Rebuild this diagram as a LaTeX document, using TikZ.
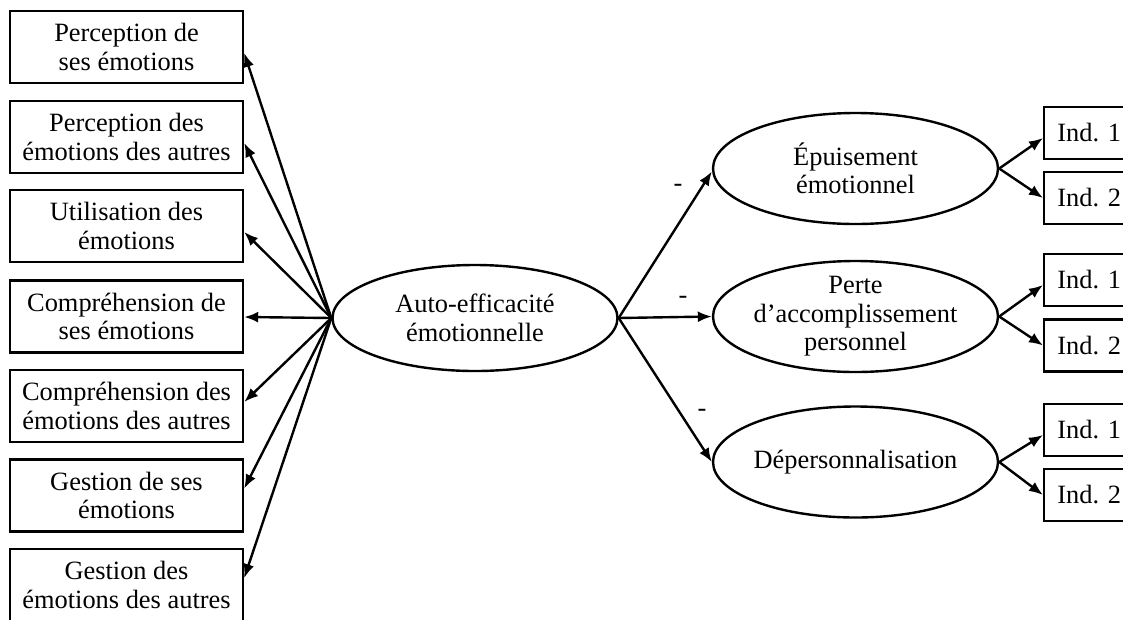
\documentclass[tikz,border=0pt]{standalone}
\usepackage{fontspec}
\setmainfont{Liberation Serif}
\usetikzlibrary{shapes.geometric,arrows.meta,calc}
\begin{document}
\begin{tikzpicture}[x=1pt,y=-1pt,
  every node/.style={font=\fontsize{26.4}{28.5}\selectfont},
  lbox/.style={draw,line width=2.4pt,minimum width=233pt,minimum height=72pt,inner sep=0pt,align=center},
  ibox/.style={draw,line width=2.4pt,minimum width=90pt,minimum height=52pt,inner sep=0pt,align=center},
  ell/.style={draw,line width=2.4pt,ellipse,inner sep=0pt},
  arr/.style={line width=2.4pt,-{Latex[length=14pt,width=11pt]}},
  txt/.style={align=center,inner sep=0pt}]
\useasboundingbox (0,0) rectangle (1123,619);
\clip (0,0) rectangle (1123,619);
% left boxes
\node[lbox] (b1) at (126.5,47) {Perception de\\ses émotions};
\node[lbox] (b2) at (126.5,137) {Perception des\\émotions des autres};
\node[lbox] (b3) at (126.5,226) {Utilisation des\\émotions};
\node[lbox] (b4) at (126.5,316.5) {Compréhension de\\ses émotions};
\node[lbox] (b5) at (126.5,406) {Compréhension des\\émotions des autres};
\node[lbox] (b6) at (126.5,495.5) {Gestion de ses\\émotions};
\node[lbox] (b7) at (126.5,585) {Gestion des\\émotions des autres};
% central ellipse
\node[ell,minimum width=285pt,minimum height=106pt] (ae) at (475,318) {};
\node[txt] (aet) at (ae) {Auto-efficacité\\émotionnelle};
% right ellipses
\node[ell,minimum width=285pt,minimum height=111pt] (ep) at (855.5,168.5) {};
\node[txt] (ept) at (ep) {Épuisement\\émotionnel};
\node[ell,minimum width=285pt,minimum height=111pt] (pa) at (855.5,316.5) {};
\node[txt] (pat) at (pa) {Perte\\d’accomplissement\\personnel};
\node[ell,minimum width=285pt,minimum height=111pt] (dp) at (855.5,462) {};
\node[txt] (dpt) at (dp) {Dépersonnalisation};
% indicator boxes
\node[ibox,anchor=west] (e1) at (1043,133) {Ind. 1};
\node[ibox,anchor=west] (e2) at (1043,198) {Ind. 2};
\node[ibox,anchor=west] (p1) at (1043,280) {Ind. 1};
\node[ibox,anchor=west] (p2) at (1043,345.5) {Ind. 2};
\node[ibox,anchor=west] (d1) at (1043,430) {Ind. 1};
\node[ibox,anchor=west] (d2) at (1043,495) {Ind. 2};
% left arrows
\draw[arr] (ae.west) -- ($(b1.east)+(0,6)$);
\draw[arr] (ae.west) -- ($(b2.east)+(0,6)$);
\draw[arr] (ae.west) -- ($(b3.east)+(0,6)$);
\draw[arr] (ae.west) -- ($(b4.east)+(0,0.5)$);
\draw[arr] (ae.west) -- ($(b5.east)+(0,-4)$);
\draw[arr] (ae.west) -- ($(b6.east)+(0,-7)$);
\draw[arr] (ae.west) -- ($(b7.east)+(0,-7)$);
% right arrows
\draw[arr] (ae.east) -- ($(ep.west)+(0,3)$);
\draw[arr] (ae.east) -- (pa.west);
\draw[arr] (ae.east) -- (dp.west);
\node[inner sep=0pt] (m1) at (678,188) {-};
\node[inner sep=0pt] (m2) at (683,300) {-};
\node[inner sep=0pt] (m3) at (702,413) {-};
% indicator arrows
\draw[arr] (ep.east) -- ($(e1.west)+(0,5)$);
\draw[arr] (ep.east) -- (e2.west);
\draw[arr] (pa.east) -- ($(p1.west)+(0,5)$);
\draw[arr] (pa.east) -- (p2.west);
\draw[arr] (dp.east) -- ($(d1.west)+(0,5)$);
\draw[arr] (dp.east) -- (d2.west);
\end{tikzpicture}
\end{document}
